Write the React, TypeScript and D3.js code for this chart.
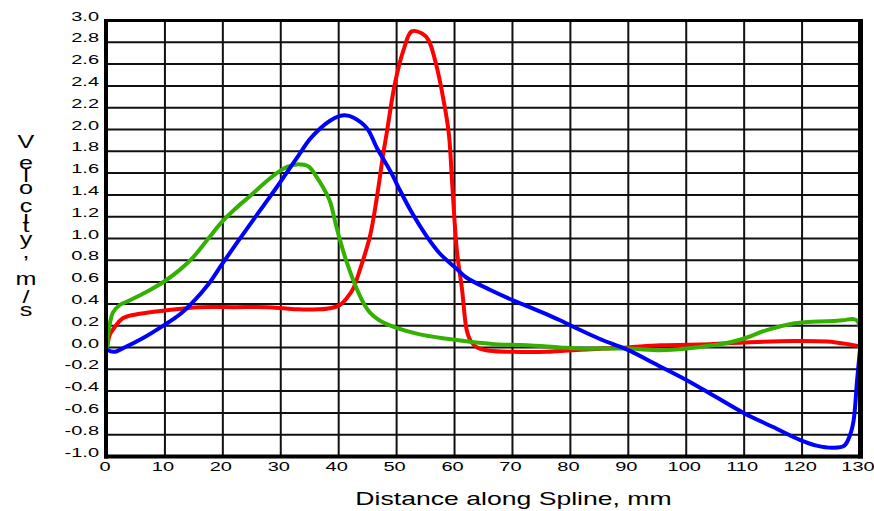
import React from "react";
import * as d3 from "d3";

// Distance along the spline (mm) and velocity (m/s) for each trace
const redDist = [0, 0.5, 1.1, 2.8, 5.7, 10, 16, 22, 27.6, 30.5, 33, 36.5, 38.5, 40.2, 41.5, 42.5, 43.7, 45.4, 46.6, 47.7, 48.3, 49.7, 51.2, 52.6, 54.4, 55.5, 56.9, 58.1, 59, 59.6, 60.4, 61.3, 62.1, 62.8, 63.9, 66.1, 70, 75.9, 81.7, 85.7, 89.8, 95.5, 104.1, 109.9, 118.5, 124.3, 128, 130];
const redVel = [0.0, 0.12, 0.17, 0.27, 0.31, 0.34, 0.37, 0.37, 0.37, 0.36, 0.35, 0.35, 0.36, 0.39, 0.46, 0.54, 0.72, 1.02, 1.38, 1.78, 1.97, 2.42, 2.73, 2.9, 2.88, 2.82, 2.58, 2.27, 1.97, 1.5, 0.89, 0.53, 0.16, 0.06, 0.0, -0.03, -0.04, -0.04, -0.02, -0.01, 0.0, 0.02, 0.03, 0.045, 0.06, 0.055, 0.03, 0.01];

const blueDist = [0, 1.2, 3, 6, 10, 12.5, 14.9, 17.5, 19.8, 22.3, 24.7, 27, 29.3, 31.5, 33.3, 35, 36.8, 38.5, 40, 41.1, 42.5, 44.9, 46.6, 48.9, 50.6, 52.5, 55.2, 57.5, 60.4, 62.1, 66.1, 70.2, 72.5, 78.2, 81.7, 85, 89.8, 95, 100.1, 105, 109.9, 115, 119.7, 122.5, 125.4, 127.3, 128.3, 128.9, 129.5, 130];
const blueVel = [-0.02, -0.04, 0.0, 0.08, 0.21, 0.3, 0.42, 0.58, 0.76, 0.95, 1.13, 1.3, 1.47, 1.64, 1.78, 1.91, 2.01, 2.08, 2.12, 2.13, 2.11, 2.01, 1.83, 1.62, 1.44, 1.25, 1.02, 0.86, 0.72, 0.64, 0.53, 0.43, 0.38, 0.25, 0.16, 0.08, -0.02, -0.16, -0.3, -0.45, -0.6, -0.73, -0.85, -0.9, -0.92, -0.9, -0.8, -0.67, -0.3, -0.02];

const greenDist = [0, 0.2, 0.5, 1.0, 2.2, 3.4, 5.7, 7.5, 10, 12.5, 14.9, 17.5, 19.8, 22.3, 24.7, 27, 29.3, 31.2, 32.8, 34.8, 36, 37.4, 38.5, 39.5, 40.2, 41.4, 42.5, 43.7, 44.6, 45.4, 47, 50, 54, 58.7, 63, 67, 72.5, 78.2, 81.7, 89.8, 95.5, 100.1, 103, 105.9, 109.9, 113.9, 118.5, 121, 124.3, 127, 128.9, 129.6, 130, 130];
const greenVel = [-0.03, 0.12, 0.22, 0.32, 0.39, 0.42, 0.48, 0.53, 0.61, 0.71, 0.83, 1.0, 1.15, 1.28, 1.39, 1.5, 1.6, 1.66, 1.68, 1.66, 1.58, 1.46, 1.34, 1.13, 0.99, 0.78, 0.62, 0.47, 0.38, 0.32, 0.25, 0.18, 0.12, 0.08, 0.05, 0.03, 0.02, 0.0, -0.01, -0.01, -0.025, -0.01, 0.01, 0.03, 0.08, 0.16, 0.22, 0.235, 0.24, 0.25, 0.26, 0.24, 0.16, 0.0];

const xTicks = d3.range(0, 131, 10);
const yTicks = d3.range(-10, 31, 2).map((v) => v / 10);

const xTitle = "Distance along Spline, mm";
const yTitle = "Velocity, m/s";

// Arial advance widths (em) for stacking the vertical title glyphs
const advance: Record<string, number> = {
  V: 0.667, e: 0.556, l: 0.222, o: 0.556, c: 0.5, i: 0.222, t: 0.278,
  y: 0.5, ",": 0.278, " ": 0.278, m: 0.833, "/": 0.278, s: 0.5,
};

const FONT = "'Liberation Sans', Arial, sans-serif";

export default function App() {
  const W = 874;
  const H = 511;
  const x = d3.scaleLinear().domain([0, 130]).range([107, 860]);
  const y = d3.scaleLinear().domain([-1, 3]).range([456.5, 20.5]);

  const line = d3
    .line<[number, number]>()
    .x((d) => x(d[0]))
    .y((d) => y(d[1]))
    .curve(d3.curveCatmullRom.alpha(0.5));

  const series = [
    { dist: redDist, vel: redVel, color: "#ff0000" },
    { dist: greenDist, vel: greenVel, color: "#33b000" },
    { dist: blueDist, vel: blueVel, color: "#0000ff" },
  ];

  // upright letters of the vertical axis title, stacked by their advance widths
  const unit = 33;
  const sx = 1.4;
  let cum = 0;
  const yTitleGlyphs = yTitle.split("").map((ch) => {
    const w = advance[ch] ?? 0.5;
    const center = cum + w / 2;
    cum += w;
    return { ch, center };
  });
  const firstCenter = yTitleGlyphs[0].center;
  const glyphX = yTitleGlyphs.map(() => (26 / sx).toFixed(2)).join(" ");
  const glyphY = yTitleGlyphs
    .map((g) => (143 + (g.center - firstCenter) * unit + 5.5).toFixed(2))
    .join(" ");

  return (
    <svg
      width={W}
      height={H}
      style={{ position: "absolute", left: 0, top: 0, background: "#fff" }}
    >
      {/* grid */}
      <g stroke="#111" strokeWidth={2}>
        {xTicks.slice(1, -1).map((t) => (
          <line key={"gx" + t} x1={x(t)} x2={x(t)} y1={y(3)} y2={y(-1)} />
        ))}
        {yTicks.slice(1, -1).map((t) => (
          <line key={"gy" + t} x1={x(0)} x2={x(130)} y1={y(t)} y2={y(t)} />
        ))}
      </g>

      {/* traces */}
      {series.map((s, i) => (
        <path
          key={i}
          d={line(s.dist.map((d, j) => [d, s.vel[j]] as [number, number])) || ""}
          fill="none"
          stroke={s.color}
          strokeWidth={4}
          strokeLinejoin="round"
          strokeLinecap="round"
        />
      ))}

      {/* frame */}
      <g stroke="#000">
        <line x1={x(0) - 1} x2={x(0) - 1} y1={y(3) - 1.5} y2={y(-1) + 2} strokeWidth={4} />
        <line x1={x(0) - 3} x2={x(130) + 3} y1={y(-1)} y2={y(-1)} strokeWidth={4} />
        <line x1={x(0) - 3} x2={x(130) + 3} y1={y(3)} y2={y(3)} strokeWidth={3} />
        <line x1={x(130) + 0.5} x2={x(130) + 0.5} y1={y(3) - 1.5} y2={y(-1) + 2} strokeWidth={5} />
      </g>

      {/* y tick labels */}
      <g fontFamily={FONT} fontSize={12.5} fill="#000">
        {yTicks.map((t) => (
          <text
            key={"ly" + t}
            transform={`translate(99,${y(t)}) scale(1.6,1)`}
            textAnchor="end"
          >
            {t.toFixed(1)}
          </text>
        ))}
      </g>

      {/* x tick labels */}
      <g fontFamily={FONT} fontSize={12.5} fill="#000">
        {xTicks.map((t) => (
          <text
            key={"lx" + t}
            transform={`translate(${x(t) - 2},471) scale(1.6,1)`}
            textAnchor="middle"
          >
            {t}
          </text>
        ))}
      </g>

      {/* axis titles */}
      <text
        transform="translate(513.5,505) scale(1.4,1)"
        textAnchor="middle"
        fontFamily={FONT}
        fontSize={19}
        fill="#000"
      >
        {xTitle}
      </text>
      <text
        transform={`scale(${sx},1)`}
        x={glyphX}
        y={glyphY}
        fontFamily={FONT}
        fontSize={18}
        fill="#000"
        textAnchor="middle"
        style={{ whiteSpace: "pre" }}
      >
        {yTitle}
      </text>
    </svg>
  );
}
